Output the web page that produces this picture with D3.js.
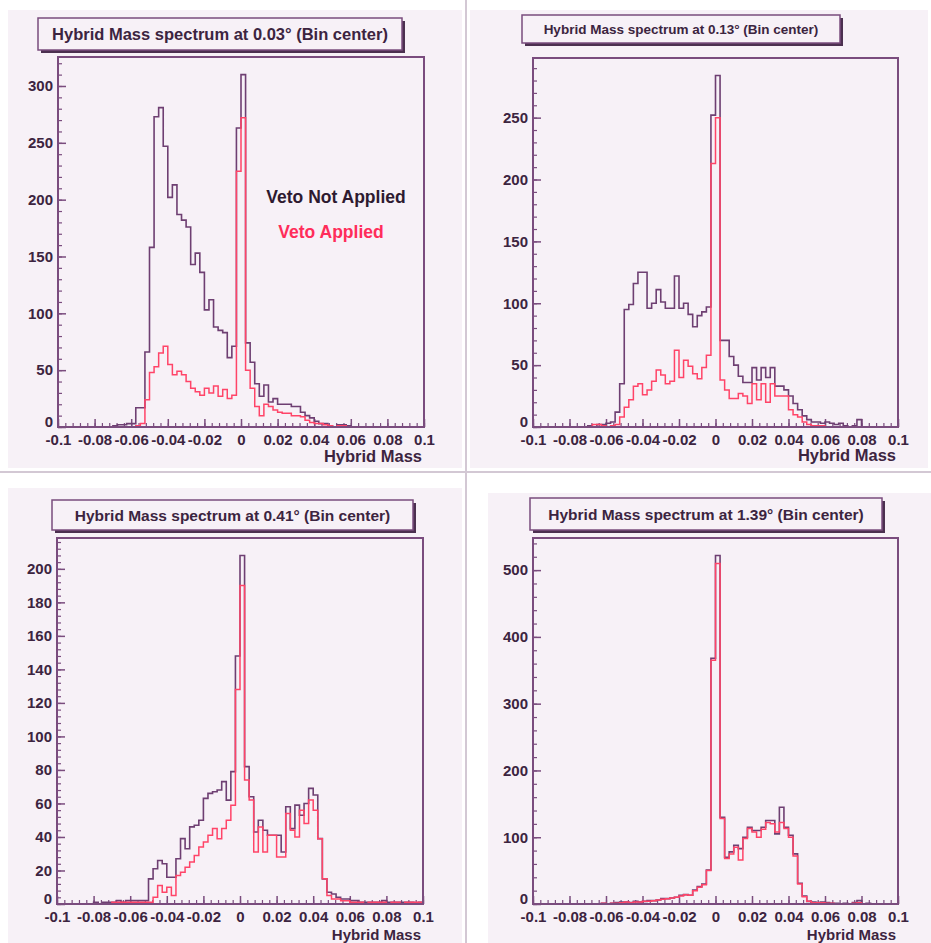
<!DOCTYPE html>
<html>
<head>
<meta charset="utf-8">
<script src="https://cdn.jsdelivr.net/npm/d3@7"></script>
<style>
  html, body { margin: 0; padding: 0; background: #ffffff; }
  svg { display: block; }
  text { font-family: "Liberation Sans", Arial, Helvetica, sans-serif; font-weight: bold; }
</style>
</head>
<body>
<svg id="chart" width="931" height="943"></svg>
<script>
// Hybrid mass spectra, 80 bins over [-0.1, 0.1], with and without the veto.
const massRange = [-0.1, 0.1];
const nBins = 80;

const xTickLabels = ["-0.1", "-0.08", "-0.06", "-0.04", "-0.02", "0", "0.02", "0.04", "0.06", "0.08", "0.1"];
const xAxisTitle = "Hybrid Mass";
const legendLabels = ["Veto Not Applied", "Veto Applied"];
const panelTitles = [
  "Hybrid Mass spectrum at 0.03° (Bin center)",
  "Hybrid Mass spectrum at 0.13° (Bin center)",
  "Hybrid Mass spectrum at 0.41° (Bin center)",
  "Hybrid Mass spectrum at 1.39° (Bin center)"
];

// 0.03 deg
const vetoOff003 = [
  0,0,0,0,0,0,0,0,0,0,
  0,0,1,2,2,3,3,17,17,66,
  158,273,281,247,202,213,187,182,176,143,
  153,136,103,112,88,85,83,61,71,263,
  310,74,57,38,27,37,22,25,20,20,
  20,18,18,13,10,8,5,3,3,1,
  0,2,2,1,0,0,0,0,0,0,
  0,0,0,0,0,0,0,0,0,0
];
const vetoOn003 = [
  0,0,0,0,0,0,0,0,0,0,
  0,0,0,0,0,0,0,1,3,24,
  48,53,65,71,55,46,49,46,40,34,
  31,28,34,30,36,27,33,25,28,225,
  272,50,34,18,10,20,18,15,13,12,
  12,10,10,9,6,4,3,3,2,1,
  0,1,1,0,0,0,0,0,0,0,
  0,0,0,0,0,0,0,0,0,0
];

// 0.13 deg
const vetoOff013 = [
  0,0,0,0,0,0,0,0,0,0,
  0,0,1,0,2,2,3,4,12,35,
  95,99,116,125,125,96,100,111,101,96,
  96,122,96,100,91,81,90,93,97,252,
  284,70,70,57,50,41,36,36,48,38,
  48,40,48,33,33,30,25,19,14,9,
  6,4,4,3,4,3,2,3,1,0,
  1,6,0,0,0,0,0,0,0,0
];
const vetoOn013 = [
  0,0,0,0,0,0,0,0,0,0,
  0,0,0,2,2,1,0,1,2,8,
  16,22,33,35,26,30,37,46,42,35,
  37,62,40,54,49,43,39,48,58,213,
  250,38,30,23,23,27,25,19,35,22,
  35,20,35,25,25,25,14,10,8,4,
  2,1,1,1,0,0,0,0,0,0,
  0,0,0,0,0,0,0,0,0,0
];

// 0.41 deg
const vetoOff041 = [
  0,0,0,0,0,0,0,0,1,0,
  1,1,1,2,1,2,2,2,2,2,
  15,21,26,24,16,16,27,39,33,46,
  47,50,63,66,67,68,73,62,79,148,
  208,82,64,43,50,44,41,41,41,31,
  58,45,59,53,60,69,65,39,15,7,
  6,4,3,3,2,2,1,1,1,1,
  1,2,1,1,1,1,1,1,0,1
];
const vetoOn041 = [
  0,0,0,0,0,0,0,0,0,0,
  0,0,1,1,1,1,1,1,1,1,
  1,4,11,7,10,5,17,19,22,25,
  29,34,37,41,45,39,45,50,59,128,
  190,74,62,31,46,31,41,41,28,28,
  54,44,40,56,48,62,56,39,15,5,
  3,3,2,2,1,1,1,0,1,1,
  1,1,0,1,1,0,1,1,1,1
];

// 1.39 deg
const vetoOff139 = [
  0,0,0,0,0,0,0,0,0,0,
  0,0,0,0,0,1,0,1,2,3,
  3,2,4,3,4,5,5,6,8,8,
  9,10,13,14,13,21,26,30,51,368,
  522,130,70,78,88,83,100,115,110,110,
  115,125,125,105,145,115,103,75,31,12,
  4,3,2,3,2,1,1,0,1,0,
  2,5,0,1,0,0,0,0,0,0
];
const vetoOn139 = [
  0,0,0,0,0,0,0,0,0,0,
  0,0,0,0,0,1,0,1,1,2,
  3,2,3,3,4,4,5,6,7,8,
  9,10,12,14,13,20,25,29,50,365,
  510,128,68,75,85,66,98,113,108,100,
  112,122,120,108,122,113,100,72,30,11,
  4,2,2,2,1,1,0,0,0,0,
  1,2,0,0,0,0,0,0,0,0
];

// Y axis divisions per pad: labelled step and minor step
const yMajorSteps = [50, 50, 20, 100];
const yMinorSteps = [10, 10, 4, 20];

// Pad geometry (canvas, frame, title box) in page pixels
const pads = [
  { canvas: [8, 10, 462, 468],  frame: [58, 57, 424, 427],  tbox: [38, 18, 402, 50],   tsize: 16.5, off: vetoOff003, on: vetoOn003, legend: true,  titleY: 462, titleSize: 16.5 },
  { canvas: [470, 10, 928, 468], frame: [533, 58, 898, 427], tbox: [522, 15, 840, 43],  tsize: 13.5, off: vetoOff013, on: vetoOn013, legend: false, titleY: 461, titleSize: 16.5 },
  { canvas: [8, 488, 462, 943], frame: [57, 538, 423, 904],  tbox: [52, 500, 413, 530], tsize: 15.5, off: vetoOff041, on: vetoOn041, legend: false, titleY: 939.5, titleSize: 15 },
  { canvas: [488, 493, 931, 943], frame: [533, 538, 898, 904], tbox: [530, 498, 882, 530], tsize: 15.5, off: vetoOff139, on: vetoOn139, legend: false, titleY: 939.5, titleSize: 15 }
];

const colors = {
  pad: "#f7f1f7",
  frame: "#7a4c7e",
  text: "#3c2440",
  off: "#6e3f72",
  on: "#ff4468",
  shadow: "#4c3050",
  sep: "#d3c8d4"
};

const svg = d3.select("#chart");

// separators between the pads
svg.append("line").attr("x1", 466).attr("x2", 466).attr("y1", 0).attr("y2", 943)
  .attr("stroke", colors.sep).attr("stroke-width", 2);
svg.append("line").attr("x1", 0).attr("x2", 931).attr("y1", 472).attr("y2", 472)
  .attr("stroke", colors.sep).attr("stroke-width", 2);

const binWidth = (massRange[1] - massRange[0]) / nBins;
const edges = d3.range(nBins + 1).map(i => massRange[0] + i * binWidth);
const xMajor = xTickLabels.map(Number);
const xMinor = d3.range(51).map(i => +(massRange[0] + i * 0.004).toFixed(4));

pads.forEach((p, k) => {
  const [cx0, cy0, cx1, cy1] = p.canvas;
  const [fx0, fy0, fx1, fy1] = p.frame;
  const g = svg.append("g");

  g.append("rect").attr("x", cx0).attr("y", cy0).attr("width", cx1 - cx0).attr("height", cy1 - cy0)
    .attr("fill", colors.pad);

  const yMax = d3.max(p.off) * 1.05;
  const x = d3.scaleLinear().domain(massRange).range([fx0, fx1]);
  const y = d3.scaleLinear().domain([0, yMax]).range([fy1, fy0]);

  // minor ticks
  g.append("g").attr("transform", `translate(0,${fy1})`)
    .call(d3.axisBottom(x).tickValues(xMinor).tickSize(-4).tickFormat(""))
    .call(a => a.select(".domain").remove())
    .call(a => a.selectAll("line").attr("stroke", colors.frame).attr("stroke-width", 1.2));
  g.append("g").attr("transform", `translate(${fx0},0)`)
    .call(d3.axisLeft(y).tickValues(d3.range(0, yMax, yMinorSteps[k])).tickSize(-4).tickFormat(""))
    .call(a => a.select(".domain").remove())
    .call(a => a.selectAll("line").attr("stroke", colors.frame).attr("stroke-width", 1.2));

  // major ticks with labels
  g.append("g").attr("transform", `translate(0,${fy1})`)
    .call(d3.axisBottom(x).tickValues(xMajor).tickSize(-8).tickPadding(7)
      .tickFormat((d, i) => xTickLabels[i]))
    .call(a => a.select(".domain").remove())
    .call(a => a.selectAll("line").attr("stroke", colors.frame).attr("stroke-width", 1.5))
    .call(a => a.selectAll("text").attr("fill", colors.text).style("font-size", "15px")
      .attr("font-family", null));
  g.append("g").attr("transform", `translate(${fx0},0)`)
    .call(d3.axisLeft(y).tickValues(d3.range(0, yMax, yMajorSteps[k])).tickSize(-8).tickPadding(5))
    .call(a => a.select(".domain").remove())
    .call(a => a.selectAll("line").attr("stroke", colors.frame).attr("stroke-width", 1.5))
    .call(a => a.selectAll("text").attr("fill", colors.text).style("font-size", "15px")
      .attr("font-family", null)
      .attr("dy", d => d === 0 ? "-0.05em" : "0.32em"));

  // histograms
  const line = d3.line().x(d => x(d[0])).y(d => y(d[1])).curve(d3.curveStepAfter);
  const pts = vals => vals.map((v, i) => [edges[i], v]).concat([[edges[nBins], vals[nBins - 1]]]);
  g.append("path").attr("d", line(pts(p.off))).attr("fill", "none")
    .attr("stroke", colors.off).attr("stroke-width", 1.6);
  g.append("path").attr("d", line(pts(p.on))).attr("fill", "none")
    .attr("stroke", colors.on).attr("stroke-width", 1.5);

  // frame
  g.append("rect").attr("x", fx0).attr("y", fy0).attr("width", fx1 - fx0).attr("height", fy1 - fy0)
    .attr("fill", "none").attr("stroke", colors.frame).attr("stroke-width", 2);

  // x axis title
  g.append("text").attr("x", fx1 - 2).attr("y", p.titleY).attr("text-anchor", "end")
    .attr("fill", colors.text).style("font-size", p.titleSize + "px").text(xAxisTitle);

  // title box with shadow
  const [tx0, ty0, tx1, ty1] = p.tbox;
  g.append("rect").attr("x", tx0 + 3).attr("y", ty0 + 3).attr("width", tx1 - tx0).attr("height", ty1 - ty0)
    .attr("fill", colors.shadow);
  g.append("rect").attr("x", tx0).attr("y", ty0).attr("width", tx1 - tx0).attr("height", ty1 - ty0)
    .attr("fill", colors.pad).attr("stroke", colors.frame).attr("stroke-width", 1.5);
  g.append("text").attr("x", (tx0 + tx1) / 2).attr("y", (ty0 + ty1) / 2 + p.tsize * 0.36)
    .attr("text-anchor", "middle").attr("fill", colors.text).style("font-size", p.tsize + "px")
    .text(panelTitles[k]);

  if (p.legend) {
    g.append("text").attr("x", 336).attr("y", 203).attr("text-anchor", "middle")
      .attr("fill", "#2e1a30").style("font-size", "17.5px").text(legendLabels[0]);
    g.append("text").attr("x", 331).attr("y", 238).attr("text-anchor", "middle")
      .attr("fill", "#ff2d5a").style("font-size", "17.5px").text(legendLabels[1]);
  }
});
</script>
</body>
</html>
